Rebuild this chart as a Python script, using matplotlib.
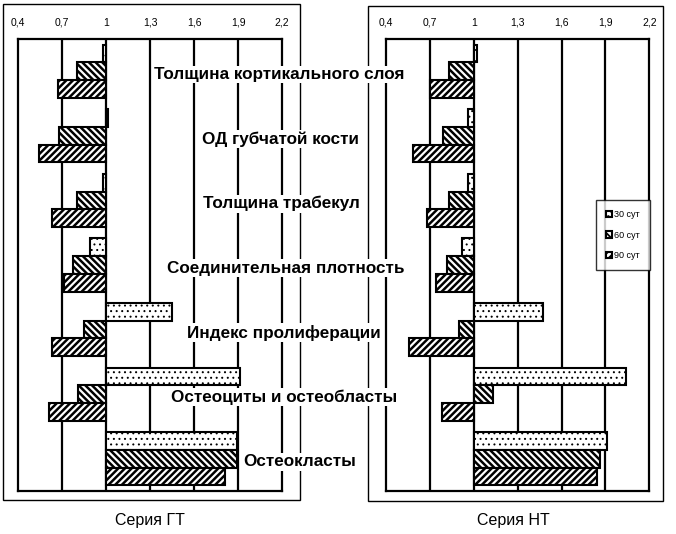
import matplotlib
matplotlib.use('Agg')
from matplotlib import pyplot as plt
from matplotlib.patches import Rectangle
import numpy as np

# categories from top to bottom
categories = ['Толщина кортикального слоя', 'ОД губчатой кости', 'Толщина трабекул',
              'Соединительная плотность', 'Индекс пролиферации',
              'Остеоциты и остеобласты', 'Остеокласты']
series_names = ['30 сут', '60 сут', '90 сут']

# Серия ГТ (left panel)
gt_30 = [0.98, 1.01, 0.98, 0.89, 1.45, 1.91, 1.89]
gt_60 = [0.80, 0.68, 0.80, 0.77, 0.85, 0.81, 1.89]
gt_90 = [0.67, 0.54, 0.63, 0.71, 0.63, 0.61, 1.81]

# Серия НТ (right panel)
nt_30 = [1.02, 0.96, 0.96, 0.92, 1.47, 2.04, 1.91]
nt_60 = [0.83, 0.79, 0.83, 0.82, 0.90, 1.13, 1.86]
nt_90 = [0.70, 0.585, 0.68, 0.745, 0.56, 0.78, 1.84]

ticks = [0.4, 0.7, 1.0, 1.3, 1.6, 1.9, 2.2]
tick_labels = ['0,4', '0,7', '1', '1,3', '1,6', '1,9', '2,2']
panel_titles = ['Серия ГТ', 'Серия НТ']

plt.rcParams['font.family'] = ['Liberation Sans', 'DejaVu Sans']
plt.rcParams['hatch.linewidth'] = 1.3

W, H = 676, 534
fig = plt.figure(figsize=(W / 100, H / 100), dpi=100)

def px_rect(x0, y0, x1, y1):
    # pixel box (top-left origin) -> figure fraction rect
    return [x0 / W, 1 - y1 / H, (x1 - x0) / W, (y1 - y0) / H]

hatches = ['...', '\\' * 5, '/' * 5]
hatch_lw = [0.7, 1.8, 1.8]
bar_h = 0.275

def draw_panel(ax, s30, s60, s90):
    y = np.arange(len(categories))
    for k, vals in enumerate([s30, s60, s90]):
        v = np.array(vals)
        bars = ax.barh(y + (k - 1) * bar_h, v - 1, left=1, height=bar_h, color='white',
                       edgecolor='black', linewidth=1.5, hatch=hatches[k], zorder=3,
                       label=series_names[k])
        for b in bars:
            try:
                b.set_hatch_linewidth(hatch_lw[k])
            except AttributeError:
                pass
    for t in ticks[1:-1]:
        ax.axvline(t, color='black', linewidth=1.6, zorder=1)
    ax.set_xlim(0.4, 2.2)
    ax.set_ylim(len(categories) - 0.5, -0.5)
    ax.set_yticks([])
    ax.xaxis.tick_top()
    ax.set_xticks(ticks)
    ax.set_xticklabels(tick_labels, fontsize=7.5)
    ax.tick_params(axis='x', length=0, pad=8)
    for s in ax.spines.values():
        s.set_linewidth(1.6)

ax1 = fig.add_axes(px_rect(18.3, 39, 282, 491))
draw_panel(ax1, gt_30, gt_60, gt_90)
ax2 = fig.add_axes(px_rect(386, 39, 649.3, 491))
draw_panel(ax2, nt_30, nt_60, nt_90)

# outer frames around each panel
fig.patches.append(Rectangle((3 / W, 1 - 500 / H), 297 / W, 496 / H, transform=fig.transFigure,
                             fill=False, edgecolor='black', linewidth=1.0, zorder=0))
fig.patches.append(Rectangle((368 / W, 1 - 501 / H), 295 / W, 495 / H, transform=fig.transFigure,
                             fill=False, edgecolor='black', linewidth=1.0, zorder=0))

# category labels in the middle, with white background over the lines
label_x = [279, 281, 281, 286, 284, 284, 300]
for i, name in enumerate(categories):
    yp = ax1.transData.transform((1, i + 0.05))[1]
    fig.text(label_x[i] / W, yp / H, name, ha='center', va='center', fontsize=12.3,
             fontweight='bold', zorder=10,
             bbox=dict(facecolor='white', edgecolor='none', pad=1.0))

fig.text(150 / W, 1 - 521 / H, panel_titles[0], ha='center', va='center', fontsize=11.5)
fig.text(513 / W, 1 - 521 / H, panel_titles[1], ha='center', va='center', fontsize=11.5)

leg = ax2.legend(loc='upper left', bbox_to_anchor=(596 / W, 1 - 200 / H), bbox_transform=fig.transFigure,
                 fontsize=6.5, frameon=True, fancybox=False, handlelength=0.7, handleheight=0.7,
                 handletextpad=0.2, labelspacing=1.3, borderpad=1.1, borderaxespad=0)
leg.get_frame().set_edgecolor('black')
leg.get_frame().set_linewidth(1.0)
leg.set_zorder(20)

plt.savefig('out.png', dpi=100)
